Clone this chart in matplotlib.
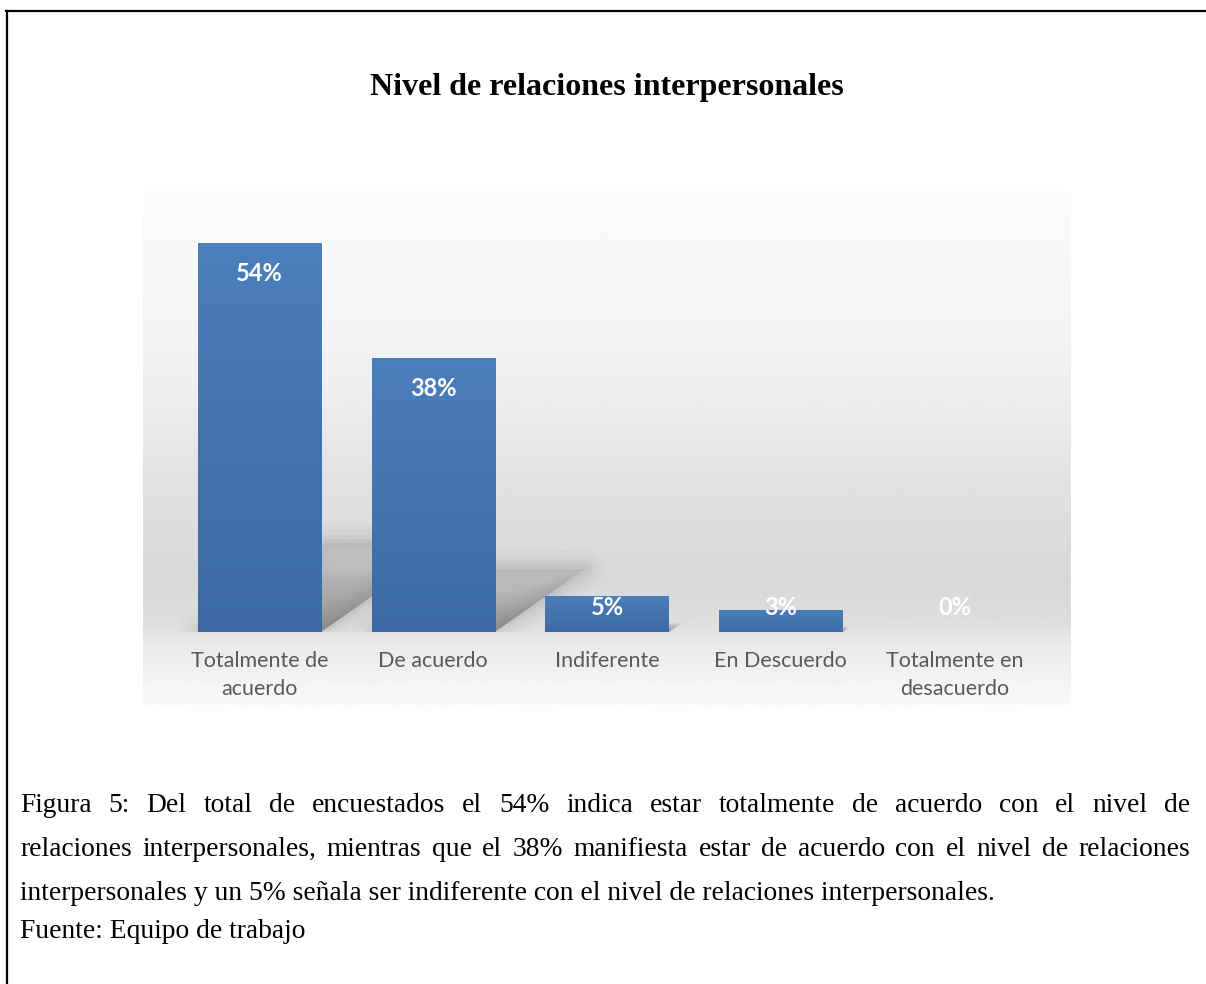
import numpy as np
import matplotlib.pyplot as plt
from matplotlib.lines import Line2D
from matplotlib.patches import Polygon
from matplotlib.colors import LinearSegmentedColormap

W, H = 1206, 984

categories = ["Totalmente de\nacuerdo", "De acuerdo", "Indiferente", "En Descuerdo", "Totalmente en\ndesacuerdo"]
values = [54, 38, 5, 3, 0]
value_labels = ["54%", "38%", "5%", "3%", "0%"]

title = "Nivel de relaciones interpersonales"
caption_lines = [
    "Figura 5: Del total de encuestados el 54% indica estar totalmente de acuerdo con el nivel de",
    "relaciones interpersonales, mientras que el 38% manifiesta estar de acuerdo con el nivel de relaciones",
    "interpersonales y un 5% señala ser indiferente con el nivel de relaciones interpersonales.",
    "Fuente: Equipo de trabajo",
]


def box(x0, y0, x1, y1):
    # pixel box (top-left origin) -> figure fraction rect
    return [x0 / W, 1 - y1 / H, (x1 - x0) / W, (y1 - y0) / H]


fig = plt.figure(figsize=(W / 100, H / 100), dpi=100)

# grey plot-area gradient (light at top, darkest near the baseline, light again under it)
bg = fig.add_axes(box(143, 190, 1071, 712))
stops_y = [0, 0.21, 0.40, 0.59, 0.75, 0.82, 0.88, 0.977, 1.0]
stops_v = [0.985, 0.965, 0.93, 0.875, 0.85, 0.865, 0.92, 0.975, 0.99]
grad = np.interp(np.linspace(0, 1, 400), stops_y, stops_v)
bg.imshow(np.repeat(grad[:, None], 2, axis=1), cmap="gray", vmin=0, vmax=1, aspect="auto")
bg.axis("off")

ax = fig.add_axes(box(143, 200, 1071, 632))
ax.patch.set_alpha(0)
x = np.arange(len(values))
bars = ax.bar(x, values, width=0.71, color="#4677b4", zorder=3)

bar_cmap = LinearSegmentedColormap.from_list("bar", ["#3d6aa3", "#4b7ebc"])
shade = np.zeros((100, 2, 4))
shade[..., :3] = 0.33
shade[..., 3] = np.linspace(0.55, 0.1, 100)[:, None]

for bar, v in zip(bars, values):
    x0 = bar.get_x()
    x1 = x0 + bar.get_width()
    h = bar.get_height()
    if h <= 0:
        continue
    ax.imshow(np.linspace(0, 1, 100)[:, None], cmap=bar_cmap, aspect="auto", origin="lower",
              extent=[x0, x1, 0, h], zorder=3.5)
    # soft cast shadow to the right of the bar
    dx, hs = 0.0136 * v, 0.23 * v
    pts = [(x0, 0), (x1, 0), (x1 + dx, hs), (x0 + dx, hs)]
    k = min(1.0, v / 38)
    for lw, a in [(28, 0.025), (20, 0.035), (12, 0.045), (5, 0.06)]:
        ax.add_patch(Polygon(pts, closed=True, facecolor="none", edgecolor="#555555",
                             linewidth=lw * k, alpha=a * k, joinstyle="round", zorder=2))
    clip = Polygon(pts, closed=True, facecolor="none", edgecolor="none")
    ax.add_patch(clip)
    im = ax.imshow(shade, aspect="auto", origin="lower", extent=[x0, x1 + dx, 0, hs], zorder=2.2)
    im.set_clip_path(clip)

for i, (v, lbl) in enumerate(zip(values, value_labels)):
    ax.text(i, max(v - 4.2, 3.4), lbl, ha="center", va="center", color="white",
            fontweight="bold", fontsize=17, family="Lato", zorder=5)

ax.set_xlim(-0.67, 4.67)
ax.set_ylim(0, 60)
ax.set_xticks(x, categories, fontsize=15.5, color="#595959", family="Lato", linespacing=1.5)
ax.tick_params(axis="x", length=0, pad=14)
ax.set_yticks([])
for s in ax.spines.values():
    s.set_visible(False)

fig.text(607 / W, 1 - 88 / H, title, ha="center", va="center", family="Liberation Serif",
         fontweight="bold", fontsize=23)

# caption, justified like the Word document
renderer = fig.canvas.get_renderer()


def width_of(s, size):
    t = fig.text(0, 0, s, family="Liberation Serif", fontsize=size)
    w = t.get_window_extent(renderer).width
    t.remove()
    return w


cap_size = 16 * 975 / width_of(caption_lines[2], 16)
baselines = [812, 856, 900, 938]
left, right = 20, 1190
for n, (line, yb) in enumerate(zip(caption_lines, baselines)):
    if n < 2:
        words = line.split(" ")
        ws = [width_of(w, cap_size) for w in words]
        gap = (right - left - sum(ws)) / (len(words) - 1)
        xp = left
        for w, ww in zip(words, ws):
            fig.text(xp / W, 1 - yb / H, w, family="Liberation Serif", fontsize=cap_size, va="baseline")
            xp += ww + gap
    else:
        fig.text(left / W, 1 - yb / H, line, family="Liberation Serif", fontsize=cap_size, va="baseline")

# page border (left and top rules)
fig.add_artist(Line2D([6.5 / W, 6.5 / W], [1 - 11 / H, 0], color="black", lw=1.6, transform=fig.transFigure))
fig.add_artist(Line2D([6 / W, 1], [1 - 11 / H, 1 - 11 / H], color="black", lw=1.6, transform=fig.transFigure))

fig.savefig("out.png", dpi=100)
